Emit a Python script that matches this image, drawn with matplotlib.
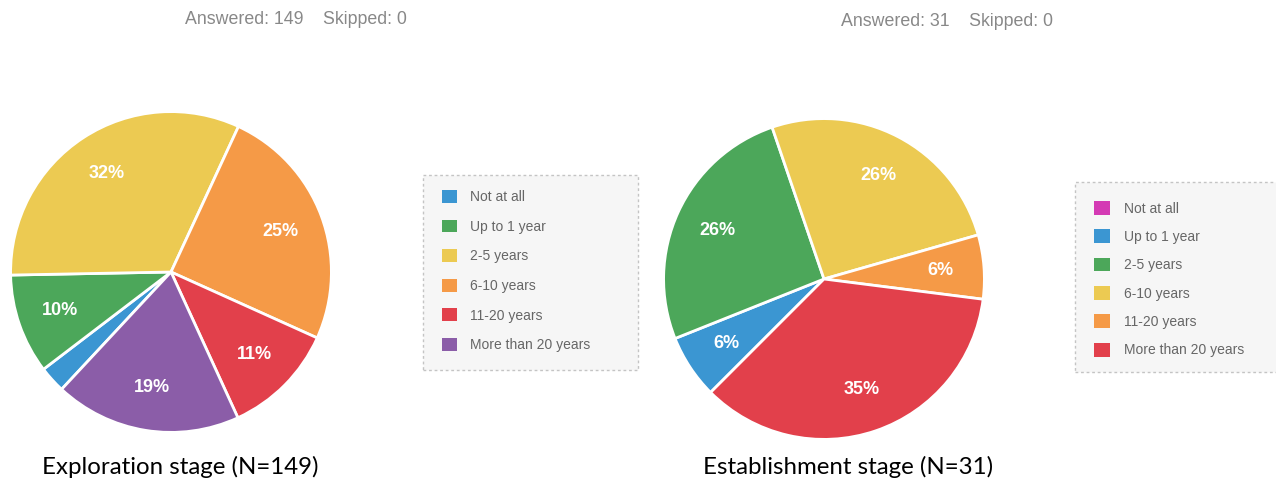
import matplotlib
matplotlib.use("Agg")
import matplotlib.pyplot as plt
from matplotlib.patches import Patch, Rectangle

W, H = 1276, 483

categories = ["Not at all", "Up to 1 year", "2-5 years", "6-10 years",
              "11-20 years", "More than 20 years"]

# Exploration stage, N=149 (counts read from the percentages)
explore_counts = [4, 15, 48, 37, 17, 28]
explore_colors = ["#3b96d2", "#4ca75a", "#ecca52", "#f59a47", "#e2404b", "#8b5da8"]

# Establishment stage, N=31
establish_counts = [0, 2, 8, 8, 2, 11]
establish_colors = ["#d43ab4", "#3b96d2", "#4ca75a", "#ecca52", "#f59a47", "#e2404b"]

headers = ["Answered: 149    Skipped: 0", "Answered: 31    Skipped: 0"]
captions = ["Exploration stage (N=149)", "Establishment stage (N=31)"]

plt.rcParams['font.family'] = ['Liberation Sans', 'DejaVu Sans']

fig = plt.figure(figsize=(W / 100, H / 100), dpi=100)


def px_axes(cx, cy, r):
    # axes box in pixel units, y measured from top
    return fig.add_axes([(cx - r) / W, (H - cy - r) / H, 2 * r / W, 2 * r / H])


def pct_label(p):
    return f"{p:.0f}%" if p >= 4 else ""


def draw_pie(cx, cy, r, counts, colors, start):
    ax = px_axes(cx, cy, r)
    ax.pie(counts, colors=colors, startangle=start, counterclock=False,
           autopct=pct_label, pctdistance=0.73,
           wedgeprops=dict(edgecolor="white", linewidth=2),
           textprops=dict(color="white", fontsize=13, fontweight="bold"))
    ax.set_xlim(-1.01, 1.01)
    ax.set_ylim(-1.01, 1.01)
    ax.set_aspect("equal")
    ax.axis("off")


def draw_legend(x0, y0, x1, y1, colors, row_gap, sq_x, first_row, sq):
    box = Rectangle((x0 / W, 1 - y1 / H), (x1 - x0) / W, (y1 - y0) / H,
                    transform=fig.transFigure, facecolor="#f6f6f6",
                    edgecolor="#c4c4c4", linestyle=(0, (2, 2)), linewidth=1)
    fig.patches.append(box)
    handles = [Patch(facecolor=c, edgecolor="none") for c in colors]
    leg = fig.legend(handles, categories, loc="upper left",
                     bbox_to_anchor=(sq_x / W, 1 - (first_row - 7) / H),
                     frameon=False, fontsize=10, labelcolor="#666666",
                     handlelength=sq, handleheight=sq, handletextpad=1.0,
                     labelspacing=row_gap, borderpad=0, borderaxespad=0)
    return leg


draw_pie(171, 272, 162, explore_counts, explore_colors, 227)
draw_pie(824, 279, 162, establish_counts, establish_colors, 225)

draw_legend(423, 175, 638, 370, explore_colors, 1.11, 442, 197, 1.05)
draw_legend(1075, 182, 1290, 372, establish_colors, 0.99, 1094, 208, 1.15)

fig.text(185 / W, 1 - 19 / H, headers[0], fontsize=12.8, color="#888888",
         ha="left", va="center")
fig.text(841 / W, 1 - 21 / H, headers[1], fontsize=12.8, color="#888888",
         ha="left", va="center")

fig.text(42 / W, 1 - 467 / H, captions[0], fontsize=17.3, color="black",
         ha="left", va="center", family=["Lato", "DejaVu Sans"])
fig.text(703 / W, 1 - 467 / H, captions[1], fontsize=17.3, color="black",
         ha="left", va="center", family=["Lato", "DejaVu Sans"])

fig.savefig("out.png", dpi=100, facecolor="white")
